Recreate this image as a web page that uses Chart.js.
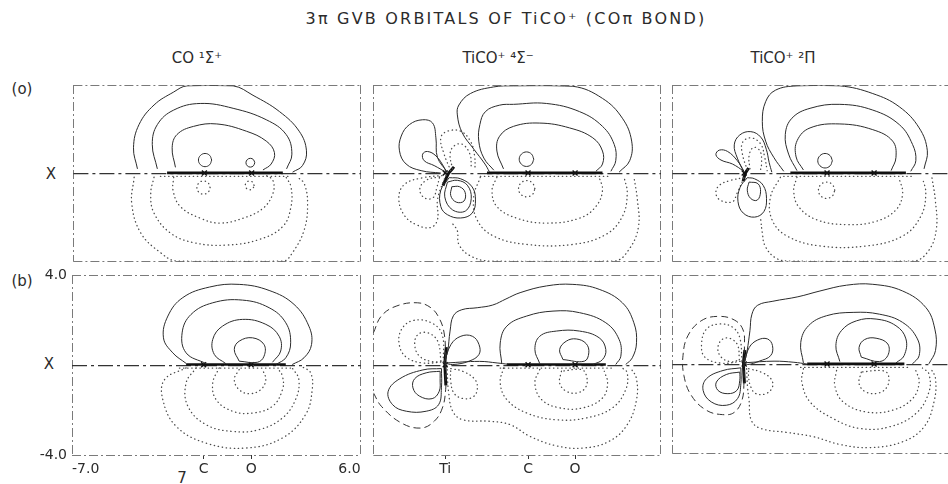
<!DOCTYPE html>
<html>
<head>
<meta charset="utf-8">
<script src="https://cdn.jsdelivr.net/npm/chart.js@4.4.1/dist/chart.umd.min.js"></script>
<style>
  body { margin: 0; width: 948px; height: 484px; overflow: hidden; position: relative; background: #fff;
         font-family: "DejaVu Sans", sans-serif; color: #2b2b2b; }
  canvas { position: absolute; }
  .t { position: absolute; white-space: nowrap; transform: translate(-50%, -50%); font-size: 15px; }
</style>
</head>
<body>
<div class="t" style="left:506px;top:18px;font-size:16px;letter-spacing:2.2px">3π GVB ORBITALS OF TiCO⁺ (COπ BOND)</div>
<div class="t" style="left:197px;top:58px">CO ¹Σ⁺</div>
<div class="t" style="left:498px;top:58px">TiCO⁺ ⁴Σ⁻</div>
<div class="t" style="left:783px;top:58px">TiCO⁺ ²Π</div>
<div class="t" style="left:22px;top:89px">(o)</div>
<div class="t" style="left:22px;top:281px">(b)</div>
<div class="t" style="left:51px;top:174px">X</div>
<div class="t" style="left:49px;top:364px">X</div>
<div class="t" style="left:182px;top:478px">7</div>
<script>
// axis ticks (bohr)
const coTickVals = [-7, -1.07, 1.07, 6];
const coTickLabels = ['-7.0', 'C', 'O', '6.0'];
const ticoTickVals = [-3.75, 0, 2.13];
const ticoTickLabels = ['Ti', 'C', 'O'];
const yTickVals = [-4, 4];
const yTickLabels = ['-4.0', '4.0'];
const frameX = [-7, 6];
const frameY = [-4, 0, 4];

// atom positions on the molecular axis
const coAtoms = [-1.07, 1.07];
const ticoAtoms = [-3.75, 0, 2.13];

// (a) CO 1Sigma+
const coA_pos = [
  [[-4.10,0.21],[-4.28,1.17],[-4.03,2.22],[-3.35,3.11],[-2.46,3.70],[-1.86,3.98],[0.23,3.98],[1.13,3.55],[2.33,2.81],[3.22,1.92],[3.55,1.03],[3.37,0.36],[2.92,0.06]],
  [[-3.20,0.21],[-3.43,1.32],[-3.20,2.22],[-2.46,2.88],[-1.26,3.18],[0.23,2.96],[1.73,2.44],[2.63,1.77],[2.89,0.88],[2.65,0.21]],
  [[-2.38,0.28],[-2.53,1.17],[-2.31,1.77],[-1.56,2.14],[-0.51,2.25],[0.83,1.92],[1.73,1.47],[2.10,0.95],[1.95,0.43],[1.58,0.16]],
  [[-0.74,0.61],[-0.83,0.82],[-1.04,0.91],[-1.25,0.82],[-1.34,0.61],[-1.25,0.40],[-1.04,0.31],[-0.83,0.40],[-0.74,0.61]],
  [[1.21,0.49],[1.15,0.63],[1.01,0.69],[0.87,0.63],[0.81,0.49],[0.87,0.35],[1.01,0.29],[1.15,0.35],[1.21,0.49]]
];
const coA_neg = [
  [[-0.81,-0.64],[-0.90,-0.43],[-1.11,-0.34],[-1.32,-0.43],[-1.41,-0.64],[-1.32,-0.85],[-1.11,-0.94],[-0.90,-0.85],[-0.81,-0.64]],
  [[1.18,-0.54],[1.12,-0.40],[0.98,-0.34],[0.84,-0.40],[0.78,-0.54],[0.84,-0.68],[0.98,-0.74],[1.12,-0.68],[1.18,-0.54]],
  [[-2.46,-0.17],[-2.49,-0.76],[-2.16,-1.50],[-1.26,-2.03],[-0.37,-2.25],[0.68,-2.03],[1.58,-1.58],[2.03,-0.91],[2.03,-0.31],[1.73,-0.09]],
  [[-3.35,-0.17],[-3.50,-0.91],[-3.35,-1.80],[-2.61,-2.70],[-1.56,-3.14],[-0.07,-3.25],[1.43,-2.99],[2.48,-2.40],[2.85,-1.50],[2.85,-0.61],[2.63,-0.17]],
  [[-4.25,-0.17],[-4.36,-1.36],[-3.95,-2.70],[-3.06,-3.59],[-2.31,-3.98],[2.48,-3.98],[2.92,-3.59],[3.45,-2.55],[3.60,-1.36],[3.45,-0.46],[3.15,-0.17]]
];
const coA_bond = [-2.76, 2.48];

// (a) TiCO+ 4Sigma-
const q4A_pos = [
  [[-1.75,0.08],[-1.95,0.43],[-2.45,1.10],[-2.98,1.85],[-3.20,2.66],[-3.13,3.11],[-2.61,3.63],[-1.56,3.93],[-0.66,3.98],[2.03,3.96],[3.37,3.41],[4.27,2.51],[4.69,1.47],[4.60,0.58],[4.12,0.06]],
  [[-1.55,0.15],[-2.00,0.70],[-2.23,1.47],[-2.18,2.22],[-1.93,2.81],[-1.30,3.10],[-0.66,3.14],[0.83,3.18],[2.33,2.81],[3.37,2.14],[3.90,1.32],[3.97,0.58],[3.75,0.10]],
  [[-1.11,0.21],[-1.41,1.02],[-1.29,1.69],[-0.66,2.14],[0.53,2.29],[1.88,2.07],[2.93,1.62],[3.37,1.02],[3.37,0.43],[3.07,0.10]],
  [[0.26,0.65],[0.16,0.88],[-0.07,0.98],[-0.30,0.88],[-0.40,0.65],[-0.30,0.42],[-0.07,0.32],[0.16,0.42],[0.26,0.65]],
  [[-3.65,0.06],[-4.10,0.73],[-4.17,1.62],[-4.32,2.29],[-4.77,2.44],[-5.37,2.22],[-5.74,1.70],[-5.82,1.03],[-5.52,0.43],[-4.84,0.13],[-3.95,0.02]],
  [[-3.72,0.06],[-4.25,0.36],[-4.70,0.58],[-4.77,0.88],[-4.55,1.00],[-4.17,0.80],[-3.80,0.28],[-3.72,0.06]],
  [[-3.57,-0.19],[-3.95,-0.76],[-3.95,-1.50],[-3.65,-1.87],[-3.05,-2.02],[-2.53,-1.80],[-2.38,-1.20],[-2.53,-0.61],[-3.05,-0.24],[-3.57,-0.19]],
  [[-3.65,-0.39],[-3.77,-1.06],[-3.42,-1.65],[-2.83,-1.70],[-2.57,-1.13],[-2.75,-0.53],[-3.20,-0.31],[-3.65,-0.39]],
  [[-3.45,-0.60],[-3.50,-1.00],[-3.25,-1.30],[-2.90,-1.25],[-2.85,-0.85],[-3.10,-0.60],[-3.45,-0.60]]
];
const q4A_neg = [
  [[-3.50,0.13],[-3.80,0.88],[-3.95,1.62],[-3.65,1.92],[-3.05,1.92],[-2.60,1.45],[-2.42,0.80],[-2.40,0.13]],
  [[-3.42,0.21],[-3.53,0.88],[-3.35,1.25],[-2.98,1.33],[-2.63,0.88],[-2.57,0.28]],
  [[-3.70,-0.08],[-4.80,-0.20],[-5.60,-0.50],[-5.85,-1.10],[-5.60,-1.90],[-5.00,-2.35],[-4.40,-2.45],[-4.10,-2.10],[-4.10,-1.20],[-3.85,-0.40],[-3.70,-0.08]],
  [[-4.00,-0.15],[-4.60,-0.30],[-4.90,-0.70],[-4.70,-1.10],[-4.30,-1.10],[-4.12,-0.60],[-4.00,-0.15]],
  [[0.31,-0.69],[0.20,-0.43],[-0.06,-0.32],[-0.32,-0.43],[-0.43,-0.69],[-0.32,-0.95],[-0.06,-1.06],[0.20,-0.95],[0.31,-0.69]],
  [[-1.41,-0.17],[-1.63,-0.76],[-1.41,-1.50],[-0.51,-2.03],[0.83,-2.25],[2.33,-2.03],[3.07,-1.50],[3.37,-0.76],[3.22,-0.17]],
  [[-2.16,-0.17],[-2.46,-1.06],[-2.31,-2.10],[-1.56,-2.84],[-0.06,-3.22],[2.03,-3.22],[3.52,-2.77],[4.27,-1.95],[4.49,-0.91],[4.35,-0.17]],
  [[-3.40,-2.30],[-3.20,-2.60],[-3.13,-3.22],[-2.61,-3.74],[-1.71,-3.98],[3.90,-3.98],[4.60,-3.40],[5.00,-2.40],[4.95,-1.20],[4.80,-0.20]]
];
const q4A_bond = [-1.86, 3.37];
const q4A_blob = [[-3.85,-0.55],[-3.60,0.00],[-3.35,0.30]];

// (a) TiCO+ 2Pi
const d2A_pos = [
  [[-1.96,0.10],[-2.41,0.73],[-2.78,1.47],[-2.93,2.36],[-2.78,3.26],[-2.34,3.78],[-1.36,3.98],[0.58,3.98],[2.07,3.63],[3.27,3.03],[4.17,2.07],[4.54,1.03],[4.39,0.21]],
  [[-1.36,0.13],[-1.74,0.88],[-1.89,1.77],[-1.59,2.51],[-0.77,2.96],[0.58,3.14],[2.07,2.88],[3.27,2.22],[3.87,1.32],[4.02,0.58],[3.79,0.10]],
  [[-1.07,0.16],[-1.40,0.75],[-1.35,1.50],[-0.77,2.07],[0.58,2.25],[2.07,1.99],[2.97,1.47],[3.12,0.73],[2.90,0.13]],
  [[0.24,0.58],[0.14,0.81],[-0.09,0.91],[-0.32,0.81],[-0.42,0.58],[-0.32,0.35],[-0.09,0.25],[0.14,0.35],[0.24,0.58]],
  [[-3.76,0.06],[-4.06,0.70],[-4.20,1.30],[-3.95,1.75],[-3.45,1.90],[-3.00,1.65],[-2.75,1.10],[-2.62,0.50],[-2.50,0.06]],
  [[-3.76,0.10],[-4.28,0.43],[-4.80,0.61],[-5.03,0.85],[-4.88,1.06],[-4.50,1.00],[-4.06,0.58],[-3.76,0.10]],
  [[-3.61,-0.19],[-3.94,-0.64],[-4.03,-1.28],[-3.79,-1.80],[-3.28,-1.98],[-2.86,-1.73],[-2.74,-1.13],[-2.89,-0.54],[-3.28,-0.24],[-3.61,-0.19]],
  [[-3.53,-0.39],[-3.61,-0.76],[-3.46,-1.13],[-3.16,-1.21],[-3.01,-0.83],[-3.13,-0.46],[-3.53,-0.39]]
];
const d2A_neg = [
  [[-3.61,0.16],[-3.83,0.88],[-3.83,1.40],[-3.46,1.62],[-3.01,1.35],[-2.82,0.73],[-2.71,0.13]],
  [[-3.49,0.21],[-3.53,0.80],[-3.34,1.18],[-3.04,1.03],[-2.96,0.51],[-3.01,0.16]],
  [[-3.76,-0.19],[-4.35,-0.31],[-4.88,-0.54],[-5.03,-0.91],[-4.80,-1.23],[-4.28,-1.28],[-4.08,-0.91],[-3.76,-0.19]],
  [[0.35,-0.76],[0.24,-0.50],[-0.02,-0.39],[-0.28,-0.50],[-0.39,-0.76],[-0.28,-1.02],[-0.02,-1.13],[0.24,-1.02],[0.35,-0.76]],
  [[-1.36,-0.17],[-1.51,-0.76],[-1.29,-1.50],[-0.47,-2.10],[0.88,-2.32],[2.22,-2.17],[3.12,-1.65],[3.42,-0.91],[3.27,-0.24]],
  [[-2.11,-0.17],[-2.56,-1.06],[-2.49,-2.10],[-1.81,-2.84],[-0.32,-3.29],[1.77,-3.29],[3.42,-2.84],[4.24,-1.95],[4.47,-0.91],[4.32,-0.20]],
  [[-3.00,-2.10],[-2.93,-2.70],[-2.80,-3.30],[-2.30,-3.85],[-1.60,-3.98],[3.90,-3.98],[4.60,-3.50],[4.95,-2.50],[4.90,-1.20],[4.75,-0.20]]
];
const d2A_bond = [-1.66, 3.57];
const d2A_blob = [[-3.80,-0.35],[-3.70,0.00],[-3.55,0.25]];

// (b) CO 1Sigma+
const coB_pos = [
  [[-1.86,0.08],[-2.46,0.55],[-2.88,1.22],[-2.68,2.19],[-2.01,3.01],[-0.81,3.48],[0.53,3.60],[1.88,3.33],[3.00,2.71],[3.67,1.74],[3.79,0.92],[3.45,0.33],[2.92,0.03]],
  [[-0.96,0.07],[-1.86,0.55],[-2.04,1.44],[-1.64,2.26],[-0.66,2.78],[0.68,2.90],[1.88,2.56],[2.63,1.89],[2.85,1.00],[2.63,0.33],[2.18,0.03]],
  [[-0.07,0.07],[-0.59,0.48],[-0.66,1.15],[-0.22,1.74],[0.68,2.04],[1.73,1.82],[2.33,1.29],[2.40,0.63],[2.03,0.13]],
  [[0.53,0.18],[0.31,0.70],[0.53,1.07],[1.13,1.22],[1.65,0.92],[1.65,0.40],[1.35,0.13],[0.53,0.18]]
];
const coB_neg = [
  [[0.53,-0.19],[0.31,-0.64],[0.53,-1.09],[0.98,-1.27],[1.50,-1.09],[1.73,-0.64],[1.58,-0.19]],
  [[-0.37,-0.12],[-0.66,-0.79],[-0.51,-1.53],[0.23,-2.05],[1.13,-2.13],[2.03,-1.83],[2.48,-1.09],[2.48,-0.49],[2.25,-0.12]],
  [[-1.41,-0.12],[-1.86,-0.79],[-1.78,-1.83],[-0.96,-2.65],[0.23,-2.95],[1.43,-2.87],[2.48,-2.35],[3.07,-1.53],[3.22,-0.64],[2.92,-0.12]],
  [[-1.86,-0.12],[-2.83,-0.64],[-2.91,-1.53],[-2.31,-2.72],[-0.96,-3.47],[0.83,-3.69],[2.48,-3.24],[3.52,-2.20],[3.82,-1.09],[3.75,-0.34],[3.37,-0.07]]
];
const coB_bond = [-1.86, 2.63];

// (b) TiCO+ 4Sigma-
const q4B_pos = [
  [[-3.79,0.15],[-3.64,0.62],[-3.53,1.52],[-3.38,2.20],[-3.00,2.47],[-2.30,2.56],[-1.60,2.68],[-1.00,2.95],[-0.36,3.23],[0.83,3.53],[2.03,3.60],[3.22,3.38],[4.27,2.78],[4.79,1.89],[4.91,1.00],[4.72,0.33],[4.42,0.03]],
  [[-1.19,0.07],[-1.26,0.99],[-0.96,1.74],[-0.06,2.19],[1.13,2.41],[2.33,2.34],[3.52,1.89],[4.12,1.15],[4.20,0.40],[3.97,0.03]],
  [[0.53,0.07],[0.31,0.70],[0.53,1.29],[1.28,1.52],[2.33,1.52],[3.22,1.22],[3.52,0.70],[3.37,0.25],[2.93,0.03]],
  [[1.58,0.25],[1.43,0.70],[1.73,1.07],[2.18,1.17],[2.63,0.96],[2.75,0.55],[2.55,0.18],[1.58,0.25]],
  [[-3.79,0.10],[-3.49,0.92],[-3.04,1.29],[-2.52,1.29],[-2.22,0.92],[-2.22,0.48],[-2.67,0.18],[-3.41,0.03],[-3.79,0.10]],
  [[-3.92,-0.15],[-4.76,-0.21],[-5.80,-0.60],[-6.33,-1.16],[-6.13,-1.76],[-5.51,-2.05],[-4.61,-2.05],[-4.05,-1.76],[-3.92,-1.01],[-3.92,-0.15]],
  [[-3.98,-0.27],[-4.61,-0.34],[-5.13,-0.60],[-5.21,-1.01],[-4.91,-1.38],[-4.34,-1.49],[-4.02,-1.16],[-3.98,-0.60],[-3.98,-0.27]],
  [[-3.70,0.10],[-2.20,0.17],[-1.40,0.10],[-0.90,0.04]]
];
const q4B_neg = [
  [[-3.83,0.15],[-3.89,1.37],[-4.38,1.89],[-5.21,1.99],[-5.73,1.59],[-5.83,0.92],[-5.51,0.36],[-4.76,0.10],[-3.83,0.15]],
  [[-3.94,0.18],[-4.09,1.07],[-4.53,1.44],[-4.98,1.37],[-5.13,0.92],[-4.91,0.40],[-4.31,0.15],[-3.94,0.18]],
  [[-3.50,-0.15],[-2.96,-0.27],[-2.40,-0.64],[-2.30,-1.09],[-2.50,-1.42],[-2.96,-1.48],[-3.35,-1.25],[-3.50,-0.71],[-3.50,-0.15]],
  [[-3.66,-0.20],[-3.60,-1.16],[-3.41,-2.05],[-2.96,-2.43],[-1.71,-2.50],[-0.81,-2.65],[0.09,-3.17],[1.28,-3.59],[2.48,-3.69],[3.67,-3.39],[4.49,-2.65],[4.91,-1.53],[4.90,-0.57],[4.64,-0.12]],
  [[-1.11,-0.12],[-1.26,-0.79],[-0.96,-1.53],[-0.06,-2.13],[1.28,-2.43],[2.63,-2.35],[3.82,-1.90],[4.42,-1.09],[4.49,-0.34],[4.27,-0.12]],
  [[0.53,-0.19],[0.31,-0.79],[0.61,-1.53],[1.43,-1.90],[2.48,-1.90],[3.37,-1.46],[3.60,-0.79],[3.45,-0.27]],
  [[1.51,-0.27],[1.43,-0.79],[1.73,-1.16],[2.25,-1.23],[2.63,-0.94],[2.63,-0.42],[2.40,-0.19],[1.51,-0.27]]
];
const q4B_node = [
  [[-7.00,1.44],[-6.64,2.19],[-5.97,2.63],[-5.00,2.78],[-4.40,2.56],[-4.03,2.11],[-3.80,1.44],[-3.73,0.40],[-3.75,0.00],[-3.73,-0.34],[-3.73,-1.09],[-3.88,-1.91],[-4.25,-2.50],[-4.85,-2.80],[-5.74,-2.57],[-6.64,-1.83],[-7.00,-1.23]]
];
const q4B_bond = [-0.96, 3.52];
const q4B_blob = [[-3.70,0.80],[-3.76,0.10],[-3.72,-0.90]];

// (b) TiCO+ 2Pi
const d2B_pos = [
  [[-3.72,0.15],[-3.62,0.60],[-3.49,1.52],[-3.40,2.26],[-3.14,2.66],[-2.45,2.84],[-1.32,3.04],[-0.32,3.30],[0.88,3.56],[2.07,3.60],[3.42,3.30],[4.47,2.56],[4.88,1.59],[4.91,0.63],[4.61,0.03]],
  [[-1.07,0.07],[-1.19,0.99],[-0.84,1.74],[-0.02,2.19],[1.18,2.34],[2.37,2.26],[3.42,1.89],[4.09,1.15],[4.17,0.40],[3.87,0.03]],
  [[0.58,0.13],[0.40,0.85],[0.65,1.52],[1.33,1.96],[2.22,2.04],[3.12,1.74],[3.57,1.15],[3.49,0.40],[3.12,0.07]],
  [[1.55,0.33],[1.45,0.77],[1.70,1.12],[2.22,1.18],[2.75,0.92],[2.75,0.40],[2.37,0.13],[1.55,0.33]],
  [[-3.74,0.10],[-3.52,0.77],[-3.14,1.10],[-2.70,1.15],[-2.47,0.85],[-2.55,0.40],[-3.07,0.15],[-3.59,0.00],[-3.74,0.10]],
  [[-3.90,-0.15],[-4.71,-0.27],[-5.46,-0.64],[-5.61,-1.16],[-5.24,-1.68],[-4.56,-1.83],[-4.05,-1.53],[-3.90,-0.86],[-3.90,-0.15]],
  [[-3.95,-0.34],[-4.56,-0.45],[-5.01,-0.79],[-4.94,-1.16],[-4.49,-1.31],[-4.08,-1.16],[-3.95,-0.71],[-3.95,-0.34]],
  [[-3.70,0.08],[-2.40,0.15],[-1.50,0.10],[-0.90,0.02]]
];
const d2B_neg = [
  [[-3.85,0.15],[-3.95,1.20],[-4.27,1.67],[-4.86,1.82],[-5.46,1.59],[-5.68,0.92],[-5.53,0.33],[-4.79,0.06],[-3.85,0.15]],
  [[-3.97,0.21],[-4.04,0.85],[-4.34,1.15],[-4.71,1.15],[-4.94,0.77],[-4.79,0.33],[-4.34,0.12],[-3.97,0.21]],
  [[-3.55,-0.19],[-2.99,-0.34],[-2.54,-0.64],[-2.47,-1.01],[-2.77,-1.31],[-3.22,-1.31],[-3.45,-1.01],[-3.55,-0.57],[-3.55,-0.19]],
  [[-3.64,-0.19],[-3.60,-1.00],[-3.53,-1.60],[-3.43,-2.50],[-3.01,-2.87],[-1.81,-3.05],[-0.62,-3.24],[0.58,-3.59],[1.92,-3.73],[3.42,-3.47],[4.39,-2.80],[4.84,-1.68],[4.91,-0.64],[4.69,-0.16]],
  [[-1.07,-0.19],[-1.14,-0.79],[-0.77,-1.68],[0.28,-2.43],[1.48,-2.87],[2.82,-2.80],[4.02,-2.20],[4.61,-1.24],[4.61,-0.42],[4.32,-0.16]],
  [[0.43,-0.27],[0.35,-0.94],[0.73,-1.68],[1.77,-2.13],[2.97,-2.05],[3.87,-1.53],[4.17,-0.79],[4.02,-0.27]],
  [[1.55,-0.34],[1.45,-0.86],[1.77,-1.24],[2.37,-1.27],[2.75,-0.94],[2.75,-0.42],[2.45,-0.27],[1.55,-0.34]]
];
const d2B_node = [
  [[-3.76,0.00],[-3.74,0.80],[-3.80,1.55],[-4.20,2.00],[-4.95,2.16],[-5.70,1.96],[-6.30,1.29],[-6.52,0.40],[-6.48,-0.49],[-6.15,-1.38],[-5.47,-2.05],[-4.73,-2.25],[-4.20,-2.15],[-3.85,-1.60],[-3.76,-0.79],[-3.76,0.00]]
];
const d2B_bond = [-0.90, 3.50];
const d2B_blob = [[-3.72,0.65],[-3.78,0.05],[-3.74,-0.85]];

// ---- layout of the six frames on the page
const COL_X = [72, 372, 671];
const ROW_Y = [84, 274];
const ROW_H = [179, 181];
const PANEL_W = 290;
const INK = '#2b2b2b';
const FONT = {family: 'DejaVu Sans', size: 14};

const SOLID = {borderColor: INK, borderWidth: 1};
const DOTS = {borderColor: '#4a4a4a', borderWidth: 1.3, borderDash: [0.4, 3.7], borderCapStyle: 'round'};
const NODE = {borderColor: '#333', borderWidth: 1, borderDash: [7, 4]};

function curves(list, style) {
  return list.map(pts => Object.assign({
    data: pts.map(p => ({x: p[0], y: p[1]})),
    showLine: true, pointRadius: 0, fill: false, tension: 0.4
  }, style));
}

function bondSets(range, atoms, blob) {
  const sets = [
    Object.assign({data: [{x: range[0], y: 0.03}, {x: range[1], y: 0.03}], showLine: true, pointRadius: 0}, {borderColor: '#111', borderWidth: 2.6}),
    Object.assign({data: [{x: range[0] - 0.3, y: -0.13}, {x: range[1] + 0.3, y: -0.13}], showLine: true, pointRadius: 0}, DOTS),
    {data: atoms.map(a => ({x: a, y: 0.02})), showLine: false, pointStyle: 'crossRot', pointRadius: 3.5,
     pointBorderColor: '#111', pointBorderWidth: 1.4}
  ];
  if (blob) {
    sets.push({data: blob.map(p => ({x: p[0], y: p[1]})), showLine: true, pointRadius: 0, tension: 0.3,
               borderColor: '#111', borderWidth: 3});
  }
  return sets;
}

function frameScale(axis, position, vals, min, max) {
  return {
    type: 'linear', axis: axis, position: position, min: min, max: max, display: true,
    afterBuildTicks: s => { s.ticks = vals.map(v => ({value: v})); },
    ticks: {display: false},
    grid: {
      display: true, drawTicks: false, drawOnChartArea: true,
      color: ctx => (ctx.tick && ctx.tick.value === 0) ? '#333' : '#7a7a7a',
      lineWidth: ctx => (ctx.tick && ctx.tick.value === 0) ? 1.3 : 1
    },
    border: {display: false, dash: ctx => (ctx.tick && ctx.tick.value === 0) ? [15, 4, 3, 4] : [9, 3, 2, 3]}
  };
}

function makePanel(col, row, datasets, xt, yt) {
  const pad = {l: 4, t: 4, r: 4, b: 4};
  if (xt) pad.b = 30;
  if (yt) { pad.l = 42; pad.t = 12; }
  const c = document.createElement('canvas');
  c.width = PANEL_W + pad.l + pad.r;
  c.height = ROW_H[row] + pad.t + pad.b;
  c.style.left = (COL_X[col] - pad.l) + 'px';
  c.style.top = (ROW_Y[row] - pad.t) + 'px';
  c.style.width = c.width + 'px';
  c.style.height = c.height + 'px';
  document.body.appendChild(c);

  const xScale = xt ? {
    type: 'linear', min: -7, max: 6, position: 'bottom', display: true,
    afterBuildTicks: s => { s.ticks = xt.vals.map(v => ({value: v})); },
    afterFit: s => { s.height = pad.b; },
    ticks: {autoSkip: false, maxRotation: 0, padding: 2, align: xt.align, color: INK, font: FONT,
            callback: (v, i) => xt.labels[i]},
    grid: {display: true, drawOnChartArea: false, drawTicks: true, tickLength: 4, color: 'rgba(0,0,0,0)',
           tickColor: ctx => xt.marks[ctx.index] ? '#333' : 'rgba(0,0,0,0)'},
    border: {display: false}
  } : {type: 'linear', min: -7, max: 6, display: false};

  const yScale = yt ? {
    type: 'linear', min: -4, max: 4, position: 'left', display: true,
    afterBuildTicks: s => { s.ticks = yt.vals.map(v => ({value: v})); },
    afterFit: s => { s.width = pad.l; },
    ticks: {padding: 5, color: INK, font: FONT, callback: (v, i) => yt.labels[i]},
    grid: {display: false, drawTicks: false},
    border: {display: false}
  } : {type: 'linear', min: -4, max: 4, display: false};

  new Chart(c, {
    type: 'scatter',
    data: {datasets: datasets},
    options: {
      responsive: false, animation: false, events: [],
      layout: {padding: {left: yt ? 0 : pad.l, right: pad.r, top: pad.t, bottom: xt ? 0 : pad.b}},
      plugins: {legend: {display: false}, tooltip: {enabled: false}},
      scales: {
        x: xScale, y: yScale,
        x2: frameScale('x', 'top', frameX, -7, 6),
        y2: frameScale('y', 'right', frameY, -4, 4)
      }
    }
  });
}

const coX = {vals: coTickVals, labels: coTickLabels, marks: [false, true, true, false], align: 'inner'};
const ticoX = {vals: ticoTickVals, labels: ticoTickLabels, marks: [true, true, true], align: 'center'};
const coY = {vals: yTickVals, labels: yTickLabels};

makePanel(0, 0, [].concat(curves(coA_pos, SOLID), curves(coA_neg, DOTS), bondSets(coA_bond, coAtoms)), null, null);
makePanel(1, 0, [].concat(curves(q4A_pos, SOLID), curves(q4A_neg, DOTS), bondSets(q4A_bond, ticoAtoms, q4A_blob)), null, null);
makePanel(2, 0, [].concat(curves(d2A_pos, SOLID), curves(d2A_neg, DOTS), bondSets(d2A_bond, ticoAtoms, d2A_blob)), null, null);
makePanel(0, 1, [].concat(curves(coB_pos, SOLID), curves(coB_neg, DOTS), bondSets(coB_bond, coAtoms)), coX, coY);
makePanel(1, 1, [].concat(curves(q4B_pos, SOLID), curves(q4B_neg, DOTS), curves(q4B_node, NODE), bondSets(q4B_bond, ticoAtoms, q4B_blob)), ticoX, null);
makePanel(2, 1, [].concat(curves(d2B_pos, SOLID), curves(d2B_neg, DOTS), curves(d2B_node, NODE), bondSets(d2B_bond, ticoAtoms, d2B_blob)), null, null);
</script>
</body>
</html>
